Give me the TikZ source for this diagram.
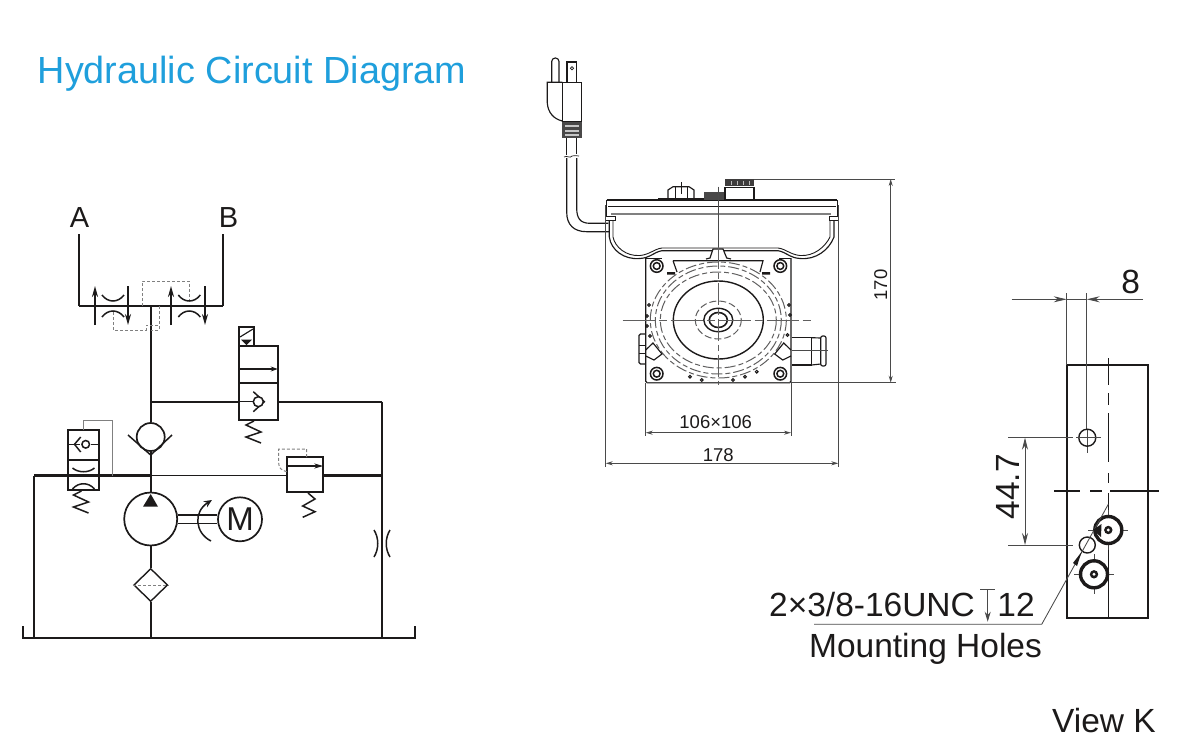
\documentclass[tikz,border=0pt]{standalone}
\usepackage{fontspec}
\setmainfont{Liberation Sans}
\usetikzlibrary{arrows.meta,shapes.geometric}
\definecolor{titleblue}{HTML}{1F9FDC}
\definecolor{ink}{HTML}{1C1A1A}
\definecolor{dimgray}{HTML}{4A4A4A}
\tikzset{
	pipe/.style={draw=ink,line width=2.3pt},
	thinpipe/.style={draw=ink,line width=1.5pt},
	pilot/.style={draw=gray,line width=1pt,dash pattern=on 3pt off 2pt},
	body/.style={draw=ink,line width=1.9pt},
	outline/.style={draw=ink,line width=1.15pt},
	hidden/.style={draw=ink!70,line width=1pt,dash pattern=on 11pt off 3pt on 5pt off 3pt},
	dimline/.style={draw=dimgray,line width=.85pt},
	dimarrow/.style={dimline,{Stealth[length=7pt,width=4pt]}-{Stealth[length=7pt,width=4pt]}},
	bigarrow/.style={dimline,{Stealth[length=12pt,width=6pt]}-{Stealth[length=12pt,width=6pt]}},
	label/.style={text=ink,inner sep=0pt,font=\fontsize{33.5}{36}\selectfont},
	smalllabel/.style={text=ink,inner sep=0pt,font=\fontsize{18.5}{20}\selectfont},
	round/.style={circle,draw=ink,inner sep=0pt,line width=1.7pt},
	zigzag/.pic={\draw[thinpipe] (0,0) -- (-8,4) -- (7,11) -- (-8,16) -- (7,22);},
	orifice/.pic={\draw[thinpipe] (-11,-11) .. controls (-5,-6) and (5,-6) .. (11,-11);
		\draw[thinpipe] (-11,10) .. controls (-5,3) and (5,3) .. (11,10);},
	nonreturn/.pic={\draw[thinpipe] (-5,-10) -- (6,0) -- (-5,10);
		\draw[thinpipe,fill=white] (0,0) circle[radius=5];},
	bolthole/.pic={\draw[outline,line width=1.5pt] (0,0) circle[radius=6.3];
		\draw[outline,line width=1.5pt] (0,0) circle[radius=3.4];}
}
\begin{document}
\begin{tikzpicture}[x=1pt,y=-1pt]
	\useasboundingbox (0,0) rectangle (1189,755);
	\node (title) at (252,74) [text=titleblue,inner sep=0pt,font=\fontsize{37.8}{40}\selectfont] {Hydraulic Circuit Diagram};

	% circuit
	\node (portA) at (79.5,218) [text=ink,inner sep=0pt,font=\fontsize{29}{30}\selectfont] {A};
	\node (portB) at (228.5,218) [text=ink,inner sep=0pt,font=\fontsize{29}{30}\selectfont] {B};
	\node (check) at (150.7,437) [round,minimum size=28pt] {};
	\node (pump) at (150.7,519) [round,minimum size=53pt] {};
	\node (motor) at (240,519.3) [round,minimum size=44pt] {};
	\node at (motor) [label,font=\fontsize{33}{36}\selectfont] {M};
	\node (filter) at (150.7,585) [diamond,draw=ink,line width=1.4pt,inner sep=0pt,minimum width=34pt,minimum height=33pt] {};
	\node (reliefbox) at (305,474.8) [body,rectangle,inner sep=0pt,minimum width=36.5pt,minimum height=35pt] {};

	\foreach \name/\x/\y in {
		lineA/79/234, cornerA/79/306, lineB/223/234, cornerB/223/306, teeTop/150.7/306, teeMid/150.7/401.7,
		cornerR/381.7/401.7, valveL/238.7/401.7, valveR/277.7/401.7,
		teeMain/150.7/475.5, teeRight/381.7/475.5, cornerL/34/475.5, footL/34/638, footR/381.7/638, footM/150.7/638,
		tankL/23/638, tankR/415/638, lipL/23/626, lipR/415/626,
		reliefL/286.7/475.5, reliefR/323.3/475.5}
		\coordinate (\name) at (\x,\y);

	\foreach \from/\to in {lineA/cornerA,cornerA/teeTop,teeTop/cornerB,cornerB/lineB,teeTop/teeMid,teeMid/check,
		cornerL/teeMain,reliefR/teeRight,valveR/cornerR,cornerL/footL,check/pump}
		\draw[pipe] (\from) -- (\to);
	\foreach \from/\to in {teeMid/valveL,teeMain/reliefL,pump/filter,filter/footM,cornerR/teeRight,teeRight/footR}
		\draw[thinpipe,line width=1.7pt] (\from) -- (\to);
	\draw[thinpipe,line width=2pt] (lipL) -- (tankL) -- (tankR) -- (lipR);

	% flow controls at the ports
	\foreach \xa/\xb/\xo in {95/128/113,171/205/189.3} {
		\draw[pipe,line width=1.8pt,-{Stealth[length=11pt,width=6pt]}] (\xa,325) -- (\xa,286);
		\draw[pipe,line width=1.8pt,-{Stealth[length=11pt,width=6pt]}] (\xb,286) -- (\xb,325);
		\draw[thinpipe] (\xo-11,295) .. controls (\xo-5,303) and (\xo+5,303) .. (\xo+11,295);
		\draw[thinpipe] (\xo-11,317) .. controls (\xo-5,309) and (\xo+5,309) .. (\xo+11,317);
	}
	\draw[pilot] (142,306) -- (142,281) -- (189.3,281) -- (189.3,299);
	\draw[pilot] (113,312) -- (113,330) -- (146,330) -- (146,325) -- (159,325);
	\draw[pilot] (159,306) -- (159,330) -- (151,330);

	% solenoid valve
	\draw[body] (238.7,346) rectangle (277.7,420);
	\draw[body] (238.7,326.7) rectangle (254.3,346);
	\draw[outline] (240,337) -- (253,329);
	\fill[ink] (241,339.5) -- (252,339.5) -- (246.5,345) -- cycle;
	\draw[thinpipe,-{Stealth[length=7pt,width=5pt]}] (238.7,369) -- (277.7,369);
	\draw[body,line width=2.2pt] (238.7,382.7) -- (277.7,382.7);
	\draw[thinpipe] (238.7,401.7) -- (253,401.7);
	\pic at (258.3,401.7) {nonreturn};
	\pic at (254,421) {zigzag};

	% check valve and pump
	\draw[thinpipe] (128,435) -- (150.7,455) -- (172,435);
	\draw[pipe] (150.7,455) -- (150.7,493);
	\fill[ink] (150.7,494) -- (158,506.7) -- (143,506.7) -- cycle;
	\draw[thinpipe] (pump.east |- 0,515) -- (motor.west |- 0,515);
	\draw[thinpipe] (pump.east |- 0,523.3) -- (motor.west |- 0,523.3);
	\draw[thinpipe,-{Stealth[length=8pt,width=7pt]}] (211,541) .. controls (195,533) and (193,512) .. (212,500);
	\draw[pilot,dash pattern=on 3pt off 2pt] (filter.west) -- (filter.east);

	% unloading valve on the left
	\draw[body] (68,430) rectangle (99,490);
	\draw[thinpipe] (68,444.3) -- (80,444.3) (91,444.3) -- (99,444.3);
	\draw[thinpipe] (68,460) -- (99,460);
	\draw[thinpipe] (80.7,437) -- (74.5,444.3) -- (80.7,452);
	\draw[thinpipe,fill=white] (85.7,444.3) circle[radius=3.8];
	\pic at (83.5,479) {orifice};
	\draw[draw=gray,line width=1pt] (83.5,430) -- (83.5,420.5) -- (112.3,420.5) -- (112.3,475.5);
	\pic at (81.5,491) {zigzag};

	% relief valve
	\draw[thinpipe,-{Stealth[length=9pt,width=5pt]}] (286.7,466) -- (323.3,466);
	\draw[pilot] (286.7,471.7) .. controls (281,470) and (278.7,468) .. (278.7,463) -- (278.7,449) -- (306.7,449) -- (306.7,457.3);
	\draw[thinpipe] (308,493) -- (315,499) -- (302.7,506) -- (315,511.7) -- (302.7,517.3);

	% orifice in the return line
	\draw[thinpipe] (374,530) .. controls (379,538) and (379,549) .. (374,557);
	\draw[thinpipe] (390,530) .. controls (385,538) and (385,549) .. (390,557);

	% plug and cord
	\draw[outline,rounded corners=3.5pt] (551.7,82.3) -- (551.7,58) -- (559,58) -- (559,82.3);
	\draw[outline] (567,82.3) -- (567,62) -- (576.7,62) -- (576.7,82.3);
	\draw[outline,line width=.7pt] (572,68.3) circle[radius=1.6];
	\draw[outline] (562.3,82.3) rectangle (581.7,121.7);
	\draw[outline] (562.3,82.3) -- (547.3,82.3) -- (547.3,103) .. controls (548,113) and (554,119) .. (562.3,121);
	\fill[ink!80] (562.3,121.7) rectangle (581.7,138.3);
	\foreach \yy in {126,131,135}
		\draw[white!75!ink,line width=1.2pt] (565,\yy) -- (579,\yy);
	\draw[outline] (566.7,138.3) -- (566.7,155) (576.7,138.3) -- (576.7,154);
	\draw[outline,line width=.7pt] (564,157) .. controls (567,155) and (570,159) .. (572,156) .. controls (574,154) and (576,157) .. (579,156);
	\draw[outline] (566.7,158) -- (566.7,212) .. controls (566.7,225) and (574,231.7) .. (586.7,231.7) -- (609.3,231.7);
	\draw[outline] (576.7,158) -- (576.7,208) .. controls (576.7,218) and (580,223.3) .. (590,223.3) -- (608.3,223.3);

	% reservoir
	\draw[ink,line width=2.2pt] (606.7,200) -- (837.3,200);
	\draw[outline] (606.7,200) -- (606.7,216) (837.3,200) -- (837.3,216);
	\draw[outline,line width=.9pt] (608,206) -- (836,206);
	\draw[draw=gray,line width=2.6pt] (611,214) -- (831,214);
	\draw[outline,line width=1pt] (606,216.5) -- (615,216.5) -- (615,220) -- (606,220);
	\draw[outline,line width=1pt] (838,216.5) -- (829,216.5) -- (829,220) -- (838,220);
	\draw[outline] (609.3,220) -- (609.3,237) .. controls (611,250) and (624,260) .. (640,258.5) .. controls (650,258) and (654,252) .. (662,250.7) -- (778,250.7) .. controls (786,252) and (790,258) .. (800,258.5) .. controls (816,260) and (829,250) .. (834,237) -- (834,220);
	\draw[outline,line width=.9pt] (613,220) -- (613,237) .. controls (615,247) and (626,256.5) .. (640,255.5) .. controls (650,254.5) and (654,249) .. (662,248) -- (778,248) .. controls (786,249) and (790,254.5) .. (800,255.5) .. controls (814,256.5) and (825,247) .. (830,237) -- (830,220);
	\draw[outline] (658,199) -- (706,199);
	\draw[outline] (668,199) -- (668,190) -- (673,186.7) -- (689,186.7) -- (694,190) -- (694,199);
	\draw[outline,line width=.7pt] (675,187) -- (675,199) (687,187) -- (687,199) (681,182) -- (681,194);
	\fill[ink!80] (704,191.7) rectangle (724.3,200);
	\draw[outline] (725,200) -- (725,187.3) -- (754,187.3) -- (754,200);
	\fill[ink!85] (725,179.3) rectangle (754,185.7);
	\foreach \xx in {731,737,743,749}
		\draw[white!70!ink,line width=1pt] (\xx,181) -- (\xx,185);
	\draw[dimline] (718.3,186.7) -- (718.3,246.7);

	% pump flange
	\draw[outline,rounded corners=1.5pt] (645.7,258) -- (645.7,382.7) -- (791,382.7) -- (791,258);
	\draw[outline,line width=.9pt] (645.7,258) -- (662,258) (779,258) -- (791,258);
	\draw[outline] (673,260.7) -- (763,260.7) -- (760,272) (673,260.7) -- (677,272);
	\draw[outline,fill=white] (706,259) -- (710,258) -- (713,249) -- (723,249) -- (726.7,258) -- (731,259);
	\fill[ink] (667,272) rectangle (675,274.5) (762,272) rectangle (770,274.5);
	\foreach \xx/\yy in {656.7/266,780.3/266,656.7/373.7,780.3/373.7}
		\pic at (\xx,\yy) {bolthole};
	\coordinate (hub) at (718.3,320);
	\foreach \rx/\ry in {68/58,63/54,58/48}
		\draw[hidden] (hub) ellipse[x radius=\rx,y radius=\ry];
	\draw[outline,line width=1.4pt] (hub) ellipse[x radius=45,y radius=39];
	\draw[hidden,dash pattern=on 7pt off 3pt] (hub) ellipse[x radius=23,y radius=19];
	\draw[outline,line width=1.4pt] (hub) ellipse[x radius=14.5,y radius=11.7];
	\draw[outline,line width=1.6pt] (hub) ellipse[x radius=9,y radius=7.5];
	\draw[hidden,dash pattern=on 32pt off 4pt on 8pt off 4pt] (622.7,320) -- (813.3,320);
	\draw[hidden,dash pattern=on 22pt off 4pt on 6pt off 4pt] (718.3,246.7) -- (718.3,385);
	\foreach \xx/\yy in {690/376.7,701.7/380,733/380,745/376.7,756.7/371.7,649/305,647/316,647/326,650/336,789/305,790/315,787.5/335}
		\draw[outline,line width=1pt] (\xx,\yy) circle[radius=1.4];

	% side ports
	\draw[outline,rounded corners=1.5pt] (645.7,334) -- (639,334) -- (639,364) -- (645.7,364);
	\draw[outline,line width=.9pt] (639,345) -- (645.7,345) (639,353) -- (645.7,353);
	\draw[outline] (645.7,350) -- (653,343) -- (662,354) -- (654,360) -- (645.7,356);
	\draw[outline] (791,350) -- (783.7,343) -- (774.7,354) -- (782.7,360) -- (791,356);
	\draw[outline] (791.7,337.7) -- (811.7,337.7) -- (811.7,365) -- (791.7,365);
	\draw[outline] (811.7,337.7) -- (820.7,338) (811.7,365) -- (820.7,364);
	\draw[outline,rounded corners=2pt] (820.7,336) rectangle (826,366);
	\draw[dimline] (791.7,350) -- (828,350);

	% dimensions of the front view
	\draw[dimline] (754,179) -- (895,179);
	\draw[dimline] (646.7,382.7) -- (896,382.7);
	\draw[dimarrow] (890.7,179) -- (890.7,382.7);
	\node (heightlabel) at (880.7,285) [smalllabel,rotate=90] {170};
	\draw[dimline] (645.7,382.7) -- (645.7,436);
	\draw[dimline] (791,382.7) -- (791,436);
	\draw[dimarrow] (645.7,432.7) -- (791,432.7);
	\node (squarelabel) at (715.7,422) [smalllabel] {106×106};
	\draw[dimline] (605.7,205) -- (605.7,466.7);
	\draw[dimline] (838.3,205) -- (838.3,466.7);
	\draw[dimarrow] (605.7,463.3) -- (838.3,463.3);
	\node (widthlabel) at (718.3,455) [smalllabel] {178};

	% view K
	\draw[ink,line width=2pt] (1066.7,364.7) rectangle (1147.7,618.3);
	\draw[dimline] (1066.7,293) -- (1066.7,364.7);
	\draw[dimline] (1086.7,293) -- (1086.7,429);
	\draw[dimline] (1087.3,429) -- (1087.3,453);
	\draw[dimline,-{Stealth[length=13pt,width=6pt]}] (1011.7,299.3) -- (1066.7,299.3);
	\draw[dimline,-{Stealth[length=13pt,width=6pt]}] (1143,299.3) -- (1086.7,299.3);
	\draw[dimline] (1066.7,299.3) -- (1086.7,299.3);
	\node (offsetlabel) at (1130.7,282) [label] {8};
	\node (upperhole) at (1087.3,437.7) [circle,draw=ink,line width=1.4pt,inner sep=0pt,minimum size=17pt] {};
	\node (lowerhole) at (1087.3,545) [circle,draw=ink,line width=1.4pt,inner sep=0pt,minimum size=16pt] {};
	\draw[dimline] (1076,437.7) -- (1101,437.7) (1008.3,437.7) -- (1073,437.7);
	\draw[dimline] (1008.3,545) -- (1073,545);
	\draw[bigarrow] (1025,437.7) -- (1025,545);
	\node (pitchlabel) at (1008,486.7) [label,rotate=90] {44.7};
	\draw[ink,line width=1.4pt,dash pattern=on 27pt off 8pt on 12pt off 8pt on 49pt off 11pt on 10pt off 10pt] (1108.3,358) -- (1108.3,493);
	\draw[ink,line width=1.4pt] (1108.3,493) -- (1108.3,618.3);
	\draw[ink,line width=1.4pt,dash pattern=on 26pt off 10pt on 12pt off 8pt on 49pt off 5pt] (1054,491) -- (1159,491);
	\foreach \xx/\yy in {1108.3/530,1094/574.3} {
		\draw[dimline] (\xx-20,\yy) -- (\xx+20,\yy) (\xx,\yy-20) -- (\xx,\yy+20);
		\draw[ink,line width=3.4pt,fill=white] (\xx,\yy) circle[radius=13.5];
		\fill[ink] (\xx,\yy) circle[radius=4.2];
		\fill[white] (\xx,\yy) circle[radius=1.6];
	}
	% leader
	\coordinate (leaderend) at (1108.3,504.3);
	\coordinate (leaderknee) at (1041.7,624.3);
	\coordinate (leaderstart) at (814,624.3);
	\draw[dimline] (leaderstart) -- (leaderknee) -- (leaderend);
	\fill[ink] (1081.7,551.7) -- (1073,563) -- (1077,566) -- cycle;
	\fill[ink] (1093,530) -- (1101.5,524) -- (1101,537) -- cycle;
	\node (threadlabel) at (872,605) [label] {2×3/8-16UNC};
	\draw[dimline] (980,589.3) -- (995,589.3);
	\draw[dimline,-{Stealth[length=10pt,width=6pt]}] (987.7,589.3) -- (987.7,621.7);
	\node (depthlabel) at (1016,605) [label] {12};
	\node (holeslabel) at (925.5,648.5) [label] {Mounting Holes};
	\node (viewlabel) at (1104,721) [label] {View K};
\end{tikzpicture}
\end{document}
